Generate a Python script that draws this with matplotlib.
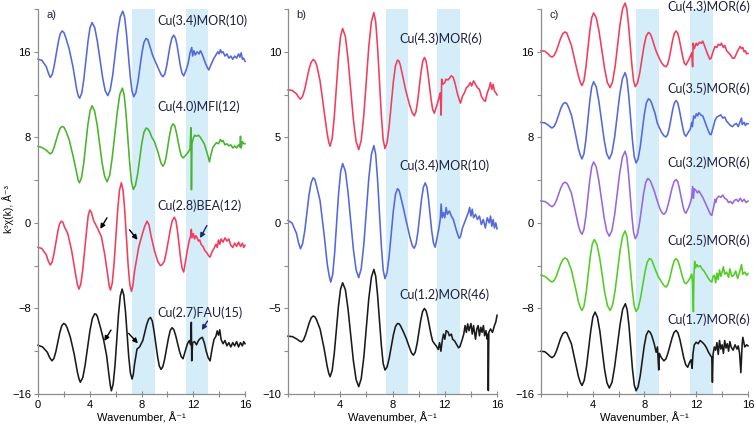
import matplotlib
matplotlib.use("Agg")
import matplotlib.pyplot as plt
from matplotlib.ticker import MultipleLocator

# ---- data: (k, k^3 chi) points ----
a_mor10 = [(0, 15.3), (0.3, 15.2), (0.64, 14.6), (0.8, 14.0), (0.95, 13.6), (1.1, 13.89), (1.25, 14.69),
           (1.56, 16.86), (1.71, 17.66), (1.86, 17.95), (2.0, 17.8), (2.15, 17.3), (2.4, 16.3), (2.7, 14.6),
           (3.0, 12.4), (3.12, 11.85), (3.22, 11.66), (3.38, 12.13), (3.54, 13.43), (3.86, 16.96), (4.02, 18.26),
           (4.18, 18.73), (4.38, 18.27), (4.58, 17.02), (4.99, 13.61), (5.19, 12.36), (5.39, 11.9), (5.58, 12.43),
           (5.78, 13.88), (6.16, 17.83), (6.36, 19.27), (6.55, 19.8), (6.69, 19.26), (6.83, 17.8), (7.12, 13.8),
           (7.26, 12.34), (7.4, 11.8), (7.56, 12.16), (7.72, 13.16), (8.03, 15.88), (8.19, 16.88), (8.35, 17.24),
           (8.48, 17.15), (8.6, 16.7), (8.85, 15.7), (9.07, 15.07), (9.35, 14.3), (9.52, 13.85), (9.66, 13.67),
           (9.8, 13.93), (9.94, 14.64), (10.21, 16.58), (10.35, 17.29), (10.49, 17.55), (10.62, 17.29),
           (10.75, 16.6), (11.0, 14.69), (11.13, 14.0), (11.26, 13.74), (11.45, 14.3), (11.6, 14.9), (11.75, 15.9),
           (11.88, 16.4), (11.95, 15.6), (12.05, 16.1), (12.15, 15.7), (12.3, 16.0), (12.45, 15.8), (12.55, 16.1),
           (12.68, 15.8), (12.8, 15.4), (12.95, 14.9), (13.1, 14.5), (13.2, 14.3), (13.3, 14.6), (13.45, 15.0),
           (13.6, 15.4), (13.75, 15.7), (13.9, 16.0), (14.0, 15.8), (14.1, 16.2), (14.2, 15.9), (14.3, 16.0),
           (14.45, 15.6), (14.6, 15.8), (14.75, 15.4), (14.9, 15.6), (15.05, 15.3), (15.2, 15.6), (15.35, 15.4),
           (15.5, 15.8), (15.6, 15.5), (15.7, 15.9), (15.8, 15.3), (15.9, 15.4), (16.0, 15.1)]

a_mfi12 = [(0, 7.16), (0.3, 7.05), (0.64, 6.8), (0.8, 6.6), (0.95, 6.45), (1.1, 6.62), (1.25, 7.09), (1.56, 8.38),
           (1.71, 8.85), (1.86, 9.02), (2.0, 8.95), (2.15, 8.6), (2.4, 7.8), (2.7, 6.3), (3.0, 4.6), (3.1, 4.0),
           (3.2, 3.75), (3.36, 4.23), (3.53, 5.55), (3.85, 9.15), (4.02, 10.47), (4.18, 10.95), (4.37, 10.47),
           (4.57, 9.17), (4.95, 5.62), (5.15, 4.33), (5.34, 3.85), (5.54, 4.44), (5.73, 6.04), (6.13, 10.41),
           (6.32, 12.01), (6.52, 12.6), (6.66, 11.97), (6.8, 10.23), (7.09, 5.5), (7.23, 3.76), (7.37, 3.13),
           (7.53, 3.51), (7.7, 4.57), (8.02, 7.43), (8.19, 8.49), (8.35, 8.87), (8.48, 8.8), (8.6, 8.6), (8.8, 8.0),
           (9.0, 7.6), (9.3, 6.5), (9.5, 5.6), (9.66, 5.3), (9.79, 5.57), (9.92, 6.29), (10.18, 8.28), (10.31, 9.0),
           (10.44, 9.27), (10.57, 9.06), (10.69, 8.47), (10.95, 6.88), (11.07, 6.29), (11.2, 6.08), (11.4, 6.3),
           (11.6, 6.6), (11.75, 6.9), (11.82, 8.9), (11.86, 3.1), (11.9, 7.4), (12.0, 7.9), (12.1, 8.2),
           (12.25, 8.1), (12.4, 8.2), (12.55, 8.0), (12.7, 7.7), (12.85, 7.4), (13.0, 6.8), (13.15, 6.2),
           (13.25, 5.7), (13.35, 6.3), (13.5, 7.0), (13.65, 7.3), (13.8, 7.5), (13.95, 7.4), (14.1, 7.8),
           (14.2, 7.6), (14.3, 7.7), (14.45, 7.3), (14.6, 7.4), (14.75, 7.2), (14.9, 7.3), (15.05, 7.0),
           (15.2, 7.2), (15.35, 7.0), (15.5, 7.3), (15.6, 7.1), (15.65, 8.1), (15.7, 7.0), (15.8, 7.6),
           (15.9, 7.4), (16.0, 7.4)]

a_bea12 = [(0, -2.28), (0.3, -2.4), (0.64, -3.0), (0.8, -3.6), (0.95, -3.94), (1.09, -3.67), (1.23, -2.91),
           (1.52, -0.86), (1.66, -0.11), (1.8, 0.16), (1.93, 0.05), (2.05, -0.4), (2.3, -1.0), (2.6, -2.6),
           (2.9, -4.8), (3.05, -5.8), (3.17, -6.19), (3.31, -5.7), (3.46, -4.34), (3.76, -0.65), (3.88, 0.7),
           (4.0, 1.2), (4.12, 1.0), (4.3, 0.2), (4.6, -0.5), (4.9, -1.3), (5.15, -2.9), (5.4, -5.0), (5.5, -5.9),
           (5.6, -6.28), (5.74, -5.61), (5.88, -3.77), (6.16, 1.24), (6.3, 3.08), (6.44, 3.75), (6.57, 3.07),
           (6.7, 1.21), (6.96, -3.86), (7.09, -5.72), (7.22, -6.4), (7.33, -5.9), (7.45, -4.6), (7.78, -2.28),
           (8.05, -1.1), (8.25, -0.3), (8.43, 0.16), (8.58, -0.2), (8.75, -1.3), (9.0, -2.6), (9.25, -3.6),
           (9.46, -4.0), (9.6, -3.9), (9.76, -3.6), (9.91, -2.79), (10.23, -0.58), (10.38, 0.23), (10.54, 0.53),
           (10.66, 0.19), (10.78, -0.75), (11.02, -3.32), (11.14, -4.26), (11.26, -4.6), (11.4, -3.6),
           (11.55, -2.5), (11.7, -1.6), (11.8, -1.2), (11.85, -0.6), (11.9, -1.4), (12.0, -1.0), (12.1, -1.5),
           (12.2, -1.2), (12.3, -1.4), (12.4, -1.7), (12.5, -1.6), (12.6, -2.0), (12.75, -2.2), (12.9, -2.6),
           (13.05, -2.8), (13.2, -3.1), (13.3, -3.2), (13.45, -2.7), (13.6, -2.4), (13.75, -2.0), (13.85, -2.3),
           (13.95, -1.6), (14.05, -2.0), (14.15, -1.5), (14.3, -1.8), (14.45, -1.4), (14.6, -1.7), (14.75, -1.5),
           (14.9, -2.1), (15.05, -2.3), (15.2, -1.9), (15.35, -2.2), (15.5, -1.8), (15.65, -2.2), (15.8, -1.9),
           (15.9, -2.3), (16.0, -2.1)]

a_fau15 = [(0, -11.44), (0.35, -11.6), (0.72, -12.1), (0.9, -12.6), (1.08, -12.9), (1.23, -12.67),
           (1.38, -12.03), (1.68, -10.27), (1.83, -9.63), (1.98, -9.4), (2.12, -9.5), (2.25, -9.8), (2.5, -10.7),
           (2.8, -12.3), (3.05, -14.0), (3.17, -14.6), (3.27, -14.9), (3.46, -14.47), (3.64, -13.3), (4.01, -10.1),
           (4.2, -8.93), (4.38, -8.5), (4.5, -8.55), (4.6, -8.8), (4.85, -9.9), (5.08, -11.0), (5.3, -12.4),
           (5.5, -14.4), (5.6, -15.3), (5.67, -15.7), (5.81, -15.06), (5.95, -13.32), (6.22, -8.57), (6.36, -6.83),
           (6.5, -6.19), (6.63, -6.75), (6.76, -8.29), (7.01, -12.5), (7.14, -14.04), (7.27, -14.6), (7.36, -14.2),
           (7.45, -13.3), (7.65, -11.8), (7.85, -11.6), (8.1, -11.0), (8.4, -9.5), (8.55, -9.0), (8.69, -8.84),
           (8.83, -9.17), (8.96, -10.06), (9.24, -12.49), (9.37, -13.37), (9.51, -13.7), (9.65, -13.44),
           (9.79, -12.73), (10.08, -10.78), (10.22, -10.06), (10.36, -9.8), (10.5, -9.99), (10.64, -10.53),
           (10.93, -11.98), (11.07, -12.51), (11.21, -12.7), (11.4, -11.9), (11.55, -11.3), (11.7, -11.0),
           (11.8, -11.4), (11.85, -9.3), (11.88, -12.9), (11.95, -11.2), (12.1, -11.1), (12.25, -11.4),
           (12.4, -11.0), (12.55, -10.8), (12.7, -10.7), (12.85, -11.2), (13.0, -12.0), (13.15, -12.6),
           (13.3, -12.9), (13.45, -11.8), (13.6, -10.9), (13.75, -10.6), (13.85, -10.1), (13.95, -10.5),
           (14.05, -10.0), (14.15, -10.9), (14.3, -11.3), (14.45, -11.0), (14.6, -11.5), (14.75, -11.2),
           (14.9, -11.6), (15.05, -11.2), (15.2, -11.5), (15.35, -11.1), (15.5, -11.6), (15.65, -11.2),
           (15.8, -11.5), (15.9, -11.1), (16.0, -11.3)]

b_mor6 = [(0, 7.77), (0.3, 7.75), (0.64, 7.55), (0.8, 7.35), (0.95, 7.23), (1.11, 7.39), (1.28, 7.81), (1.6, 8.97),
          (1.77, 9.39), (1.93, 9.55), (2.07, 9.45), (2.2, 9.2), (2.45, 8.3), (2.75, 6.6), (3.0, 5.2), (3.12, 4.7),
          (3.22, 4.48), (3.38, 4.94), (3.54, 6.2), (3.86, 9.64), (4.02, 10.9), (4.18, 11.36), (4.39, 10.89),
          (4.59, 9.59), (5.0, 6.05), (5.21, 4.75), (5.41, 4.28), (5.6, 4.82), (5.8, 6.28), (6.18, 10.29),
          (6.38, 11.75), (6.57, 12.29), (6.71, 11.76), (6.85, 10.3), (7.14, 6.33), (7.28, 4.87), (7.42, 4.34),
          (7.58, 4.69), (7.74, 5.64), (8.06, 8.23), (8.22, 9.17), (8.38, 9.52), (8.5, 9.45), (8.6, 9.2),
          (8.8, 8.5), (9.0, 7.77), (9.3, 6.9), (9.5, 6.45), (9.66, 6.26), (9.79, 6.49), (9.92, 7.11),
          (10.18, 8.82), (10.31, 9.44), (10.44, 9.67), (10.57, 9.45), (10.69, 8.85), (10.95, 7.22), (11.07, 6.63),
          (11.2, 6.41), (11.4, 6.9), (11.55, 7.3), (11.65, 7.6), (11.72, 6.3), (11.76, 8.4), (11.85, 8.1),
          (12.0, 8.2), (12.1, 8.4), (12.24, 8.35), (12.4, 8.5), (12.5, 8.6), (12.65, 8.5), (12.8, 8.1),
          (12.95, 7.6), (13.1, 7.2), (13.2, 7.0), (13.35, 7.4), (13.5, 7.6), (13.65, 7.9), (13.8, 8.0),
          (13.95, 8.2), (14.05, 8.0), (14.2, 8.3), (14.35, 8.1), (14.5, 7.9), (14.65, 7.8), (14.8, 7.4),
          (14.95, 7.2), (15.1, 7.1), (15.25, 7.6), (15.4, 7.9), (15.5, 8.2), (15.6, 7.8), (15.7, 8.1),
          (15.8, 7.7), (15.9, 7.6), (16.0, 7.48)]

b_mor10 = [(0, 0.14), (0.3, 0.0), (0.64, -0.6), (0.8, -1.15), (0.95, -1.51), (1.11, -1.23), (1.28, -0.47),
           (1.6, 1.6), (1.77, 2.36), (1.93, 2.64), (2.07, 2.5), (2.2, 2.1), (2.45, 1.3), (2.75, -0.6), (3.0, -2.4),
           (3.15, -3.1), (3.27, -3.46), (3.42, -3.0), (3.57, -1.73), (3.87, 1.74), (4.03, 3.0), (4.18, 3.47),
           (4.39, 3.02), (4.59, 1.8), (5.0, -1.53), (5.21, -2.75), (5.41, -3.2), (5.6, -2.68), (5.8, -1.27),
           (6.18, 2.59), (6.38, 4.0), (6.57, 4.52), (6.71, 4.0), (6.85, 2.57), (7.14, -1.32), (7.28, -2.74),
           (7.42, -3.26), (7.58, -2.91), (7.74, -1.94), (8.06, 0.69), (8.22, 1.65), (8.38, 2.0), (8.5, 1.9),
           (8.6, 1.6), (8.85, 0.8), (9.05, 0.1), (9.35, -0.9), (9.52, -1.35), (9.66, -1.48), (9.8, -1.22),
           (9.94, -0.53), (10.22, 1.39), (10.36, 2.08), (10.5, 2.34), (10.63, 2.09), (10.75, 1.4), (11.0, -0.48),
           (11.13, -1.17), (11.26, -1.42), (11.4, -0.9), (11.55, -0.3), (11.65, 0.2), (11.72, 1.1), (11.8, 0.3),
           (11.9, 0.6), (12.0, 0.3), (12.1, 0.9), (12.2, 0.5), (12.35, 0.7), (12.5, 0.4), (12.65, 0.2),
           (12.8, -0.2), (12.95, -0.6), (13.1, -0.9), (13.2, -0.8), (13.35, -0.3), (13.5, 0.0), (13.65, 0.3),
           (13.8, 0.6), (13.9, 0.9), (14.0, 0.4), (14.1, 0.8), (14.2, 0.3), (14.35, 0.5), (14.5, 0.2),
           (14.65, 0.4), (14.8, -0.1), (14.95, 0.2), (15.1, -0.3), (15.25, 0.3), (15.4, 0.0), (15.5, 0.4),
           (15.6, -0.2), (15.7, 0.2), (15.8, -0.3), (15.9, 0.0), (16.0, -0.35)]

b_mor46 = [(0, -6.62), (0.35, -6.65), (0.7, -6.8), (0.87, -6.9), (1.03, -6.95), (1.18, -6.85), (1.33, -6.57),
           (1.63, -5.82), (1.78, -5.54), (1.93, -5.44), (2.07, -5.5), (2.2, -5.7), (2.45, -6.2), (2.75, -7.3),
           (3.0, -8.4), (3.12, -8.8), (3.22, -8.99), (3.38, -8.62), (3.54, -7.62), (3.86, -4.87), (4.02, -3.87),
           (4.18, -3.5), (4.39, -3.91), (4.59, -5.02), (5.0, -8.05), (5.21, -9.16), (5.41, -9.57), (5.6, -9.11),
           (5.8, -7.86), (6.18, -4.43), (6.38, -3.18), (6.57, -2.72), (6.71, -3.11), (6.85, -4.19), (7.14, -7.13),
           (7.28, -8.21), (7.42, -8.6), (7.58, -8.42), (7.74, -7.92), (8.06, -6.56), (8.22, -6.06), (8.38, -5.88),
           (8.5, -5.9), (8.6, -6.0), (8.85, -6.4), (9.05, -6.76), (9.3, -7.3), (9.45, -7.6), (9.6, -7.73),
           (9.74, -7.55), (9.88, -7.05), (10.16, -5.68), (10.3, -5.18), (10.44, -5.0), (10.57, -5.14),
           (10.69, -5.51), (10.95, -6.54), (11.07, -6.91), (11.2, -7.05), (11.35, -7.2), (11.5, -7.4),
           (11.6, -7.0), (11.7, -7.5), (11.8, -6.9), (11.9, -6.5), (12.0, -6.8), (12.1, -6.3), (12.24, -6.37),
           (12.35, -6.6), (12.5, -6.5), (12.6, -6.8), (12.75, -6.9), (12.9, -7.1), (13.05, -7.3), (13.15, -7.24),
           (13.3, -6.9), (13.45, -6.5), (13.55, -6.0), (13.65, -6.4), (13.75, -5.9), (13.85, -6.3), (14.0, -5.88),
           (14.1, -6.5), (14.2, -6.0), (14.35, -6.8), (14.45, -6.2), (14.55, -6.0), (14.65, -6.6), (14.75, -6.1),
           (14.85, -6.4), (14.95, -6.0), (15.05, -6.6), (15.15, -6.3), (15.25, -6.8), (15.3, -6.5), (15.33, -9.8),
           (15.37, -6.4), (15.5, -6.2), (15.65, -6.4), (15.8, -6.0), (15.9, -5.8), (16.0, -5.4)]

c_43 = [(0, 16.1), (0.3, 16.05), (0.55, 15.8), (0.7, 15.6), (0.85, 15.5), (1.02, 15.66), (1.19, 16.09),
        (1.52, 17.27), (1.69, 17.7), (1.86, 17.86), (2.0, 17.75), (2.1, 17.4), (2.35, 16.6), (2.65, 15.0),
        (2.9, 13.7), (3.05, 13.1), (3.17, 12.84), (3.32, 13.29), (3.47, 14.54), (3.77, 17.93), (3.92, 19.18),
        (4.07, 19.63), (4.28, 19.16), (4.49, 17.89), (4.92, 14.4), (5.13, 13.12), (5.34, 12.65), (5.53, 13.18),
        (5.73, 14.63), (6.11, 18.58), (6.31, 20.03), (6.5, 20.56), (6.63, 20.04), (6.76, 18.6), (7.03, 14.7),
        (7.16, 13.26), (7.29, 12.74), (7.46, 13.08), (7.63, 14.0), (7.96, 16.54), (8.13, 17.46), (8.3, 17.8),
        (8.43, 17.7), (8.55, 17.4), (8.75, 16.6), (8.95, 15.9), (9.3, 15.0), (9.5, 14.7), (9.66, 14.6),
        (9.79, 14.82), (9.92, 15.44), (10.18, 17.11), (10.31, 17.73), (10.44, 17.95), (10.57, 17.74),
        (10.69, 17.15), (10.95, 15.56), (11.07, 14.97), (11.2, 14.76), (11.4, 15.2), (11.55, 15.6),
        (11.65, 15.9), (11.72, 14.6), (11.76, 16.8), (11.85, 16.3), (12.0, 16.8), (12.1, 16.6), (12.25, 16.9),
        (12.4, 16.8), (12.5, 17.0), (12.6, 16.7), (12.75, 16.2), (12.9, 15.7), (13.05, 15.3), (13.15, 15.4),
        (13.3, 16.0), (13.45, 16.5), (13.6, 16.4), (13.7, 16.7), (13.85, 16.6), (13.95, 16.8), (14.1, 16.4),
        (14.2, 16.6), (14.35, 16.1), (14.5, 15.9), (14.65, 15.7), (14.8, 15.4), (14.95, 15.4), (15.1, 15.8),
        (15.25, 16.2), (15.4, 16.5), (15.5, 16.3), (15.6, 16.4), (15.7, 16.0), (15.8, 16.1), (15.9, 15.8),
        (16.0, 15.85)]

c_35 = [(0, 9.4), (0.3, 9.35), (0.55, 9.15), (0.7, 9.0), (0.85, 8.87), (1.02, 9.03), (1.19, 9.47), (1.52, 10.66),
        (1.69, 11.1), (1.86, 11.26), (2.0, 11.15), (2.1, 10.9), (2.35, 10.1), (2.65, 8.4), (2.9, 6.9),
        (3.05, 6.3), (3.17, 5.98), (3.32, 6.46), (3.47, 7.78), (3.77, 11.4), (3.92, 12.72), (4.07, 13.2),
        (4.27, 12.72), (4.47, 11.4), (4.88, 7.78), (5.08, 6.46), (5.28, 5.98), (5.48, 6.52), (5.69, 8.0),
        (6.09, 12.03), (6.3, 13.51), (6.5, 14.05), (6.64, 13.48), (6.78, 11.94), (7.07, 7.71), (7.21, 6.17),
        (7.35, 5.6), (7.51, 6.0), (7.67, 7.1), (7.98, 10.1), (8.14, 11.2), (8.3, 11.6), (8.43, 11.5),
        (8.55, 11.2), (8.8, 10.3), (9.0, 9.3), (9.3, 8.5), (9.5, 8.15), (9.66, 8.03), (9.79, 8.26), (9.92, 8.88),
        (10.18, 10.59), (10.31, 11.21), (10.44, 11.44), (10.57, 11.22), (10.69, 10.6), (10.95, 8.94),
        (11.07, 8.32), (11.2, 8.1), (11.4, 8.5), (11.55, 8.8), (11.65, 9.4), (11.7, 9.0), (11.8, 10.0),
        (11.9, 9.8), (12.0, 10.2), (12.1, 10.0), (12.2, 10.3), (12.35, 10.1), (12.5, 10.0), (12.6, 9.7),
        (12.75, 9.2), (12.9, 8.7), (13.05, 8.3), (13.15, 8.25), (13.3, 8.9), (13.45, 9.6), (13.6, 9.9),
        (13.75, 10.0), (13.9, 10.1), (14.05, 9.8), (14.2, 9.9), (14.35, 9.5), (14.5, 9.3), (14.65, 9.1),
        (14.8, 9.0), (14.95, 9.2), (15.1, 9.3), (15.25, 9.0), (15.4, 9.5), (15.5, 9.8), (15.55, 9.2),
        (15.7, 9.4), (15.8, 9.1), (15.9, 9.3), (16.0, 9.27)]

c_32 = [(0, 2.05), (0.3, 2.0), (0.55, 1.8), (0.7, 1.62), (0.85, 1.52), (1.02, 1.67), (1.19, 2.09), (1.52, 3.24),
        (1.69, 3.66), (1.86, 3.81), (2.0, 3.7), (2.1, 3.5), (2.35, 2.8), (2.65, 1.1), (2.9, -0.3), (3.05, -0.85),
        (3.17, -1.06), (3.32, -0.61), (3.47, 0.63), (3.77, 4.01), (3.92, 5.25), (4.07, 5.7), (4.27, 5.23),
        (4.47, 3.96), (4.88, 0.49), (5.08, -0.78), (5.28, -1.25), (5.48, -0.72), (5.69, 0.74), (6.09, 4.71),
        (6.3, 6.17), (6.5, 6.7), (6.63, 6.15), (6.76, 4.66), (7.03, 0.57), (7.16, -0.92), (7.29, -1.47),
        (7.45, -1.09), (7.61, -0.07), (7.93, 2.73), (8.09, 3.77), (8.25, 4.15), (8.38, 4.05), (8.5, 3.8),
        (8.75, 3.0), (8.95, 2.2), (9.2, 1.3), (9.35, 0.95), (9.5, 0.8), (9.66, 1.02), (9.81, 1.62),
        (10.13, 3.25), (10.28, 3.84), (10.44, 4.06), (10.57, 3.85), (10.69, 3.27), (10.95, 1.69), (11.07, 1.11),
        (11.2, 0.9), (11.4, 1.4), (11.55, 1.9), (11.65, 2.4), (11.72, 3.4), (11.78, 2.3), (11.85, 3.2),
        (12.0, 3.0), (12.1, 2.8), (12.2, 3.0), (12.35, 2.7), (12.5, 2.4), (12.65, 2.0), (12.8, 1.6),
        (12.95, 1.2), (13.1, 0.8), (13.2, 0.7), (13.35, 1.5), (13.45, 2.2), (13.5, 1.9), (13.6, 2.3),
        (13.75, 2.5), (13.9, 2.4), (14.05, 2.6), (14.2, 2.3), (14.35, 2.2), (14.5, 1.9), (14.65, 2.0),
        (14.8, 1.8), (14.95, 2.1), (15.1, 2.2), (15.25, 2.0), (15.4, 2.3), (15.55, 2.0), (15.7, 2.2),
        (15.85, 1.9), (16.0, 2.05)]

c_25 = [(0, -4.9), (0.3, -5.0), (0.55, -5.25), (0.7, -5.42), (0.85, -5.53), (1.02, -5.38), (1.19, -4.97),
        (1.52, -3.84), (1.69, -3.43), (1.86, -3.28), (2.0, -3.38), (2.1, -3.6), (2.35, -4.4), (2.65, -6.0),
        (2.9, -7.4), (3.05, -7.95), (3.17, -8.19), (3.33, -7.75), (3.49, -6.53), (3.8, -3.22), (3.96, -2.0),
        (4.12, -1.56), (4.32, -2.0), (4.53, -3.22), (4.93, -6.53), (5.14, -7.75), (5.34, -8.19), (5.53, -7.69),
        (5.73, -6.33), (6.11, -2.61), (6.31, -1.25), (6.5, -0.75), (6.64, -1.25), (6.78, -2.63), (7.07, -6.4),
        (7.21, -7.78), (7.35, -8.28), (7.52, -7.95), (7.69, -7.05), (8.04, -4.58), (8.21, -3.67), (8.38, -3.34),
        (8.5, -3.4), (8.6, -3.6), (8.85, -4.4), (9.05, -5.0), (9.35, -5.6), (9.5, -5.85), (9.66, -6.0),
        (9.79, -5.82), (9.92, -5.34), (10.18, -4.0), (10.31, -3.52), (10.44, -3.34), (10.57, -3.5),
        (10.69, -3.93), (10.95, -5.1), (11.07, -5.53), (11.2, -5.69), (11.35, -5.5), (11.5, -5.2), (11.65, -4.8),
        (11.72, -5.6), (11.78, -8.3), (11.82, -5.0), (11.88, -3.6), (11.95, -4.2), (12.05, -3.9), (12.15, -4.1),
        (12.3, -4.0), (12.45, -4.3), (12.6, -4.5), (12.75, -4.8), (12.9, -5.1), (13.05, -5.4), (13.2, -5.53),
        (13.3, -5.0), (13.4, -4.9), (13.5, -5.6), (13.6, -4.7), (13.7, -5.3), (13.8, -4.4), (13.9, -5.0),
        (14.0, -4.6), (14.1, -4.1), (14.2, -4.8), (14.35, -4.6), (14.5, -5.1), (14.6, -4.3), (14.75, -5.0),
        (14.9, -4.9), (15.05, -4.5), (15.2, -5.2), (15.35, -4.6), (15.5, -3.9), (15.6, -4.8), (15.75, -4.6),
        (15.9, -4.9), (16.0, -4.75)]

c_17 = [(0, -12.0), (0.3, -12.05), (0.55, -12.3), (0.7, -12.48), (0.85, -12.6), (1.02, -12.44), (1.19, -12.0),
        (1.52, -10.8), (1.69, -10.36), (1.86, -10.2), (2.0, -10.3), (2.1, -10.6), (2.35, -11.3), (2.65, -13.0),
        (2.9, -14.4), (3.05, -14.95), (3.17, -15.2), (3.34, -14.74), (3.51, -13.49), (3.85, -10.06),
        (4.01, -8.8), (4.18, -8.34), (4.36, -8.82), (4.55, -10.12), (4.91, -13.67), (5.1, -14.96),
        (5.28, -15.44), (5.49, -14.91), (5.69, -13.47), (6.11, -9.53), (6.31, -8.09), (6.52, -7.56),
        (6.66, -8.11), (6.8, -9.6), (7.07, -13.66), (7.21, -15.15), (7.35, -15.7), (7.51, -15.32), (7.67, -14.3),
        (7.98, -11.5), (8.14, -10.48), (8.3, -10.1), (8.42, -10.2), (8.55, -10.5), (8.75, -11.3), (8.9, -12.1),
        (9.0, -11.6), (9.1, -13.75), (9.15, -12.2), (9.3, -12.6), (9.5, -12.9), (9.66, -12.71), (9.81, -12.19),
        (10.13, -10.77), (10.28, -10.25), (10.44, -10.06), (10.59, -10.29), (10.74, -10.92), (11.04, -12.64),
        (11.19, -13.27), (11.34, -13.5), (11.5, -13.0), (11.6, -12.8), (11.68, -13.6), (11.75, -12.2),
        (11.85, -11.4), (12.0, -11.16), (12.15, -11.3), (12.3, -11.0), (12.5, -11.2), (12.65, -11.4),
        (12.8, -11.7), (12.95, -12.1), (13.1, -12.4), (13.2, -12.56), (13.25, -14.9), (13.3, -12.3),
        (13.4, -11.6), (13.5, -11.9), (13.6, -11.2), (13.7, -12.3), (13.8, -11.0), (13.9, -11.8), (14.0, -11.4),
        (14.1, -12.2), (14.2, -11.0), (14.3, -11.7), (14.4, -11.3), (14.5, -12.0), (14.6, -11.1), (14.7, -11.6),
        (14.85, -11.9), (15.0, -11.4), (15.15, -11.8), (15.25, -11.5), (15.35, -12.2), (15.45, -14.0),
        (15.55, -11.3), (15.6, -10.7), (15.75, -11.6), (15.9, -11.4), (16.0, -11.5)]

# sample names with label anchor (k, value)
a_labels = [("Cu(3.4)MOR(10)", 9.2, 18.9), ("Cu(4.0)MFI(12)", 9.2, 10.9),
            ("Cu(2.8)BEA(12)", 9.2, 1.6), ("Cu(2.7)FAU(15)", 9.2, -8.4)]
b_labels = [("Cu(4.3)MOR(6)", 8.5, 10.76), ("Cu(3.4)MOR(10)", 8.5, 3.37), ("Cu(1.2)MOR(46)", 8.5, -4.19)]
c_labels = [("Cu(4.3)MOR(6)", 9.8, 20.2), ("Cu(3.5)MOR(6)", 9.8, 12.5), ("Cu(3.2)MOR(6)", 9.8, 5.67),
            ("Cu(2.5)MOR(6)", 9.8, -1.67), ("Cu(1.7)MOR(6)", 9.8, -9.1)]

# shaded k ranges
a_bands = [(7.3, 9.05), (11.45, 13.15)]
b_bands = [(7.5, 9.2), (11.4, 13.2)]
c_bands = [(7.35, 9.1), (11.5, 13.3)]

# arrows in panel a: (tail k, tail value, head k, head value, color)
a_arrows = [(5.33, 0.47, 4.81, -0.56, "black"), (7.07, -0.65, 7.69, -1.58, "black"),
            (13.05, -0.25, 12.53, -1.42, "#1c2a70"), (5.64, -10.02, 5.12, -11.04, "black"),
            (7.0, -10.33, 7.72, -11.26, "black"), (13.1, -9.18, 12.66, -10.02, "#1c2a70")]

BLUE = "#5468dc"
RED = "#f23c5c"
GREEN = "#48b42c"
LIME = "#52cc24"
PURPLE = "#9a66dc"
BLACK = "#1a1a1a"
BAND = "#d4edf8"
SPINE = "#8c8c8c"
TXT = "#1f2040"

plt.rcParams["font.family"] = ["Liberation Sans", "DejaVu Sans"]

fig = plt.figure(figsize=(7.56, 4.29), dpi=100)
ax_a = fig.add_axes([0.0503, 0.0816, 0.2738, 0.8974])
ax_b = fig.add_axes([0.381, 0.0816, 0.2765, 0.8974])
ax_c = fig.add_axes([0.7156, 0.0816, 0.2738, 0.8974])

panels = [
    (ax_a, "a)", [(a_mor10, BLUE), (a_mfi12, GREEN), (a_bea12, RED), (a_fau15, BLACK)],
     a_labels, a_bands, (-16, 20), 8, 4, ["0", "4", "8", "12", "16"]),
    (ax_b, "b)", [(b_mor6, RED), (b_mor10, BLUE), (b_mor46, BLACK)],
     b_labels, b_bands, (-10, 12.5), 5, 2.5, ["", "4", "8", "12", "16"]),
    (ax_c, "c)", [(c_43, RED), (c_35, BLUE), (c_32, PURPLE), (c_25, LIME), (c_17, BLACK)],
     c_labels, c_bands, (-16, 20), 8, 4, ["", "4", "8", "12", "16"]),
]

for ax, tag, curves, labels, bands, ylim, ymaj, ymin, xlabels in panels:
    for lo, hi in bands:
        ax.axvspan(lo, hi, color=BAND, lw=0, zorder=0)
    for pts, col in curves:
        k = [p[0] for p in pts]
        chi = [p[1] for p in pts]
        ax.plot(k, chi, color=col, lw=1.15, clip_on=False, zorder=2)
    for name, kx, vy in labels:
        ax.text(kx, vy, name, fontsize=9, color=TXT, family=["Lato", "DejaVu Sans"],
                va="center", ha="left", clip_on=False, zorder=3)
    ax.text(0.04, 0.985, tag, transform=ax.transAxes, fontsize=8, color=TXT,
            va="center", ha="left")
    ax.set_xlim(0, 16)
    ax.set_ylim(*ylim)
    ax.set_xticks([0, 4, 8, 12, 16])
    ax.set_xticklabels(xlabels)
    ax.xaxis.set_minor_locator(MultipleLocator(2))
    ax.yaxis.set_major_locator(MultipleLocator(ymaj))
    ax.yaxis.set_minor_locator(MultipleLocator(ymin))
    ax.tick_params(axis="both", which="both", direction="out", length=3, width=0.8,
                   color=SPINE, labelsize=8, labelcolor="black", pad=2)
    ax.tick_params(axis="x", which="both", direction="inout", length=5)
    for s in ["top", "right"]:
        ax.spines[s].set_visible(False)
    for s in ["left", "bottom"]:
        ax.spines[s].set_color(SPINE)
        ax.spines[s].set_linewidth(0.9)
    ax.set_xlabel("Wavenumber, Å⁻¹", fontsize=8, labelpad=1)
    ax.patch.set_visible(False)

ax_a.set_ylabel("k³χ(k), Å⁻³", fontsize=7.5, va="center")
ax_a.yaxis.set_label_coords(-0.145, 0.48)

for tk, tv, hk, hv, col in a_arrows:
    ax_a.annotate("", xy=(hk, hv), xytext=(tk, tv),
                  arrowprops=dict(arrowstyle="-|>", color=col, lw=1.0,
                                  mutation_scale=7, shrinkA=0, shrinkB=0))

fig.savefig("out.png", dpi=100)
